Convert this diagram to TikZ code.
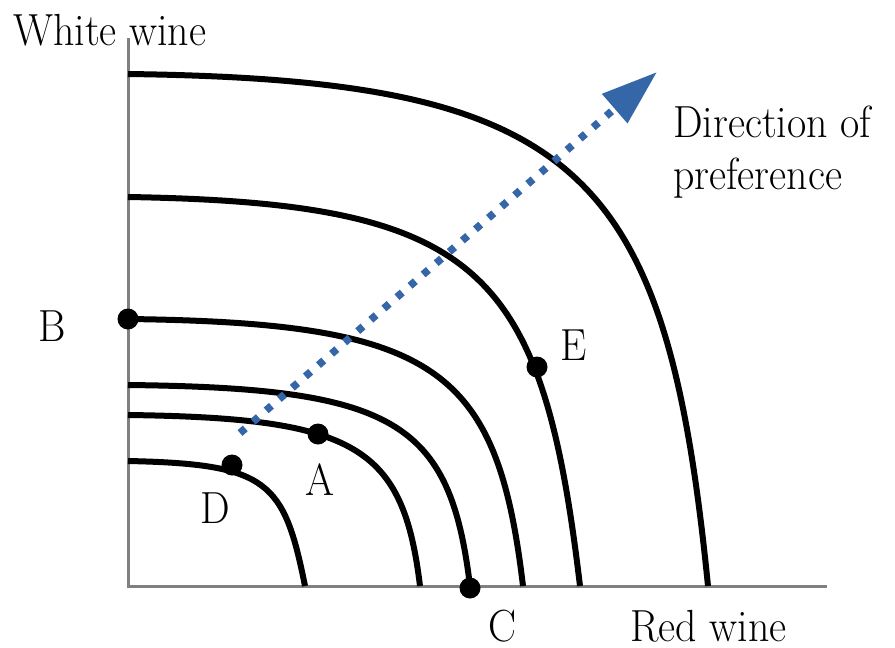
\documentclass[tikz,border=0pt]{standalone}
\usetikzlibrary{arrows.meta}
\definecolor{prefblue}{RGB}{53,102,168}
\definecolor{axisgray}{RGB}{128,128,128}
\newcommand{\sqz}[1]{\scalebox{0.93}[1]{#1}}
\begin{document}
\begin{tikzpicture}[x=1pt,y=-1pt,
  axisline/.style={draw=axisgray,line width=3pt},
  icurve/.style={draw=black,line width=6pt},
  dot/.style={circle,fill=black,inner sep=0pt,minimum size=21pt},
  lbl/.style={font=\fontsize{45}{52}\selectfont,inner sep=0pt,anchor=base west},
  pref/.style={draw=prefblue,line width=7.5pt,dash pattern=on 7pt off 10.3pt,
    -{Triangle[length=56pt,width=37pt,fill=prefblue]}}]
\useasboundingbox (0,0) rectangle (895,648);
% axes
\coordinate (ytop) at (128,38);
\coordinate (orig) at (128,586);
\coordinate (xend) at (827,586);
\draw[axisline] (ytop) -- (orig);
\draw[axisline] ([xshift=-1.5pt]orig) -- (xend);
% indifference curves
\draw[icurve] (128,74) .. controls (580,80) and (666,166) .. (708,586);
\draw[icurve] (128,197) .. controls (481,203) and (542,267) .. (580,586);
\draw[icurve] (128,319) .. controls (436,323) and (497,367) .. (523,586);
\draw[icurve] (128,385) .. controls (395,388) and (450,421) .. (470,586);
\draw[icurve] (128,415) .. controls (356,418) and (403,446) .. (420,586);
\draw[icurve] (128,461) .. controls (268,464) and (284,481) .. (305,586);
% direction of preference
\coordinate (ps) at (240,433);
\coordinate (pe) at (657,72);
\draw[pref] (ps) -- (pe);
% points
\node[dot] (pB) at (128,319) {};
\node[dot] (pD) at (232,465) {};
\node[dot] (pA) at (318,434) {};
\node[dot] (pC) at (470,588) {};
\node[dot] (pE) at (537,367) {};
% labels
\node[lbl] (lw) at (13,45) {\sqz{White wine}};
\node[lbl] (lr) at (630,641) {\sqz{Red wine}};
\node[lbl] (ld1) at (673,137) {\sqz{Direction of}};
\node[lbl] (ld2) at (673,189) {\sqz{preference}};
\node[lbl] (lB) at (38,341) {\sqz{B}};
\node[lbl] (lE) at (560,360) {\sqz{E}};
\node[lbl] (lA) at (305,495) {\sqz{A}};
\node[lbl] (lD) at (200,523) {\sqz{D}};
\node[lbl] (lC) at (488,641) {\sqz{C}};
\end{tikzpicture}
\end{document}
